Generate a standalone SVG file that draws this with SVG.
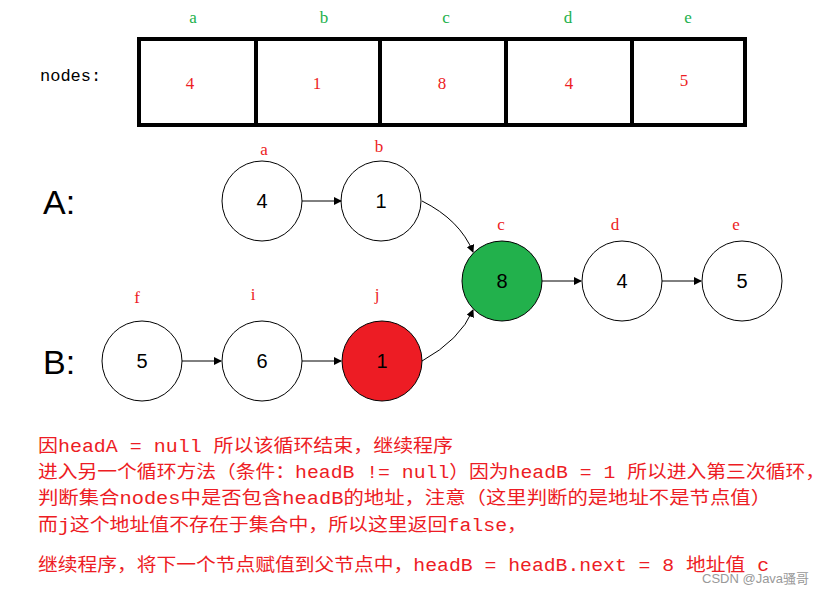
<svg xmlns="http://www.w3.org/2000/svg" width="840" height="596" viewBox="0 0 840 596">
<style>
.g{fill:#22b14c;font:17px "Liberation Serif","Noto Sans CJK SC",serif;text-anchor:middle}
.r{fill:#ed1c24;font:17px "Liberation Serif","Noto Sans CJK SC",serif;text-anchor:middle}
.n{fill:#fff;stroke:#000;stroke-width:1}
.v{font:20px "Liberation Sans",sans-serif;text-anchor:middle;fill:#000}
.big{font:34px "Liberation Sans",sans-serif;fill:#000}
.t{fill:#ed1c24;font:18px "Liberation Mono","Noto Sans CJK SC",monospace}
.c{fill:none;stroke:#000;stroke-width:1;marker-end:url(#a)}
</style>
<defs><marker id="a" markerWidth="8" markerHeight="8" refX="7" refY="4" orient="auto" markerUnits="userSpaceOnUse"><path d="M0,0L8,4L0,8z" fill="#000"/></marker></defs>
<rect width="840" height="596" fill="#fff"/>
<g id="array">
<text x="40" y="81" style="font:17px 'Liberation Mono','Noto Sans CJK SC',monospace">nodes:</text>
<rect x="139" y="39" width="606" height="86" fill="none" stroke="#000" stroke-width="4"/>
<path d="M256 39V125M380 39V125M506 39V125M632 39V125" stroke="#000" stroke-width="4"/>
<text class="g" x="193" y="23">a</text><text class="g" x="324" y="23">b</text><text class="g" x="446" y="23">c</text><text class="g" x="568" y="23">d</text><text class="g" x="688" y="23">e</text>
<text class="r" x="190" y="89">4</text><text class="r" x="317" y="89">1</text><text class="r" x="442" y="89">8</text><text class="r" x="569" y="89">4</text><text class="r" x="684" y="86">5</text>
</g>
<text class="big" x="43" y="214">A:</text>
<text class="big" x="43" y="374">B:</text>
<g id="na"><circle class="n" cx="262" cy="201" r="40"/><text class="v" x="262" y="208">4</text><text class="r" x="264" y="155">a</text></g>
<g id="nb"><circle class="n" cx="381" cy="201" r="40"/><text class="v" x="381" y="208">1</text><text class="r" x="379" y="152">b</text></g>
<g id="nc"><circle cx="502" cy="281" r="40" fill="#22b14c" stroke="#000"/><text class="v" x="502" y="288">8</text><text class="r" x="501" y="230">c</text></g>
<g id="nd"><circle class="n" cx="622" cy="281" r="40"/><text class="v" x="622" y="288">4</text><text class="r" x="615" y="230">d</text></g>
<g id="ne"><circle class="n" cx="742" cy="281" r="40"/><text class="v" x="742" y="288">5</text><text class="r" x="736" y="230">e</text></g>
<g id="nf"><circle class="n" cx="142" cy="361" r="40"/><text class="v" x="142" y="368">5</text><text class="r" x="137" y="303">f</text></g>
<g id="ni"><circle class="n" cx="262" cy="361" r="40"/><text class="v" x="262" y="368">6</text><text class="r" x="253" y="300">i</text></g>
<g id="nj"><circle cx="382" cy="361" r="40" fill="#ed1c24" stroke="#000"/><text class="v" x="382" y="368">1</text><text class="r" x="377" y="300">j</text></g>
<g id="connectors">
<path class="c" d="M302 201H341"/>
<path class="c" d="M422 201Q460 220 473 252"/>
<path class="c" d="M422 361Q460 340 473 310"/>
<path class="c" d="M542 281H581"/>
<path class="c" d="M662 281H701"/>
<path class="c" d="M182 361H221"/>
<path class="c" d="M302 361H341"/>
</g>
<g id="notes">
<text class="t" x="38" y="452" textLength="415" lengthAdjust="spacingAndGlyphs">因headA = null 所以该循环结束，继续程序</text>
<text class="t" x="38" y="478" textLength="787" lengthAdjust="spacingAndGlyphs">进入另一个循环方法（条件：headB != null）因为headB = 1 所以进入第三次循环，</text>
<text class="t" x="38" y="504" textLength="733" lengthAdjust="spacingAndGlyphs">判断集合nodes中是否包含headB的地址，注意（这里判断的是地址不是节点值）</text>
<text class="t" x="38" y="531" textLength="489" lengthAdjust="spacingAndGlyphs">而j这个地址值不存在于集合中，所以这里返回false，</text>
<text class="t" x="38" y="571" textLength="731" lengthAdjust="spacingAndGlyphs">继续程序，将下一个节点赋值到父节点中，headB = headB.next =  8 地址值 c</text>
<text x="702" y="583" style="font:13px 'Liberation Sans','Noto Sans CJK SC',sans-serif;fill:#999">CSDN @Java骚哥</text>
</g>
</svg>
